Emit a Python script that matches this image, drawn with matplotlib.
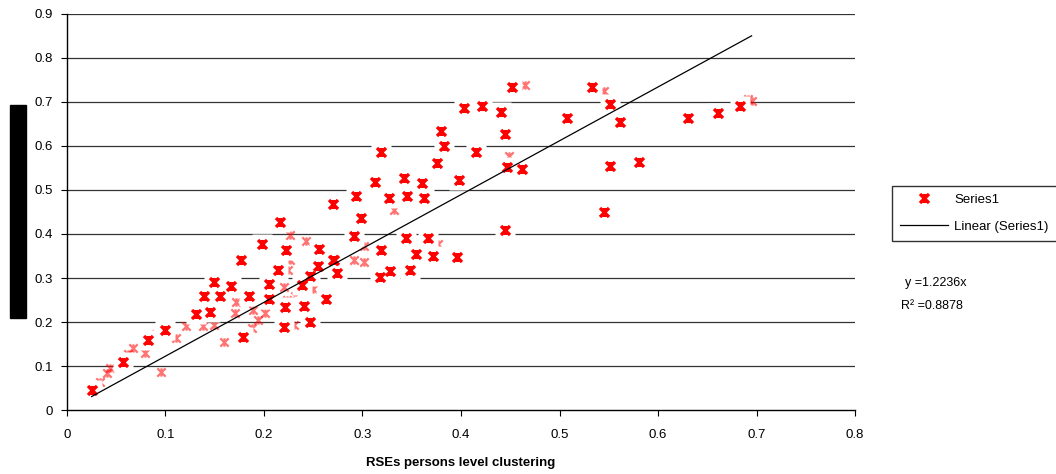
import numpy as np
import matplotlib
matplotlib.use('Agg')
import matplotlib.pyplot as plt
import matplotlib.patches as mpatches
from matplotlib.path import Path

plt.rcParams['font.family'] = ['Liberation Sans', 'DejaVu Sans']

# clearly drawn markers (x = clustering RSE, y = other RSE)
x_full = [0.025, 0.057, 0.082, 0.100, 0.131, 0.145, 0.177, 0.139, 0.155, 0.149,
          0.167, 0.185, 0.198, 0.205, 0.205, 0.214, 0.216, 0.222, 0.220, 0.221,
          0.241, 0.239, 0.247, 0.179, 0.255, 0.256, 0.263, 0.270, 0.270, 0.271,
          0.274, 0.247, 0.291, 0.293, 0.298, 0.313, 0.319, 0.318, 0.319, 0.327,
          0.328, 0.342, 0.344, 0.345, 0.348, 0.354, 0.360, 0.362, 0.366, 0.372,
          0.376, 0.380, 0.383, 0.396, 0.398, 0.403, 0.415, 0.421, 0.441, 0.445,
          0.445, 0.447, 0.452, 0.462, 0.508, 0.533, 0.551, 0.561, 0.551, 0.581,
          0.545, 0.630, 0.661, 0.683]
y_full = [0.045, 0.110, 0.158, 0.182, 0.218, 0.222, 0.341, 0.259, 0.259, 0.292,
          0.282, 0.259, 0.377, 0.286, 0.252, 0.318, 0.427, 0.364, 0.188, 0.233,
          0.236, 0.284, 0.201, 0.165, 0.328, 0.367, 0.252, 0.468, 0.341, 0.342,
          0.312, 0.305, 0.395, 0.486, 0.436, 0.519, 0.587, 0.303, 0.364, 0.481,
          0.316, 0.528, 0.392, 0.486, 0.318, 0.355, 0.515, 0.481, 0.392, 0.351,
          0.561, 0.633, 0.600, 0.347, 0.523, 0.687, 0.587, 0.692, 0.678, 0.627,
          0.409, 0.552, 0.733, 0.547, 0.664, 0.733, 0.695, 0.655, 0.555, 0.564,
          0.451, 0.664, 0.674, 0.692]

# markers mostly hidden behind others (only fragments visible)
x_part = [0.034, 0.041, 0.044, 0.062, 0.067, 0.079, 0.090, 0.095, 0.111, 0.121,
          0.138, 0.149, 0.159, 0.171, 0.172, 0.188, 0.189, 0.194, 0.201, 0.220,
          0.223, 0.224, 0.226, 0.226, 0.230, 0.231, 0.243, 0.250, 0.291, 0.302,
          0.302, 0.332, 0.377, 0.449, 0.465, 0.545, 0.691, 0.695]
y_part = [0.064, 0.085, 0.095, 0.127, 0.140, 0.129, 0.172, 0.087, 0.163, 0.191,
          0.190, 0.194, 0.154, 0.220, 0.246, 0.186, 0.227, 0.205, 0.220, 0.280,
          0.250, 0.318, 0.398, 0.341, 0.193, 0.259, 0.383, 0.276, 0.342, 0.337,
          0.373, 0.455, 0.377, 0.577, 0.739, 0.724, 0.706, 0.702]

slope = 1.2236
r2 = 0.8878

x_ticks = [0, 0.1, 0.2, 0.3, 0.4, 0.5, 0.6, 0.7, 0.8]
x_labels = ['0', '0.1', '0.2', '0.3', '0.4', '0.5', '0.6', '0.7', '0.8']
y_ticks = [0, 0.1, 0.2, 0.3, 0.4, 0.5, 0.6, 0.7, 0.8, 0.9]
y_labels = ['0', '0.1', '0.2', '0.3', '0.4', '0.5', '0.6', '0.7', '0.8', '0.9']

# Excel style star marker: X with a vertical bar
star = Path([(-1, -1), (1, 1), (-1, 1), (1, -1), (0, -1), (0, 1)],
            [Path.MOVETO, Path.LINETO, Path.MOVETO, Path.LINETO, Path.MOVETO, Path.LINETO])

fig = plt.figure(figsize=(10.56, 4.74), dpi=100)
ax = fig.add_axes([0.0634, 0.135, 0.7463, 0.8355])

ax.set_xlim(0, 0.8)
ax.set_ylim(0, 0.9)
for t in y_ticks[1:]:
    ax.axhline(t, color='#333333', lw=0.9, zorder=1)

x_all = np.array(x_full + x_part)

ax.plot(x_part, y_part, ls='none', marker=star, ms=6, mec='red', mew=1.6,
        alpha=0.55, zorder=2)
ax.plot(x_full, y_full, ls='none', marker='s', ms=15, mfc='white', mec='none', zorder=3)
ax.plot(x_full, y_full, ls='none', marker=star, ms=6.5, mec='red', mew=2.4,
        zorder=4, label='Series1')

line_x = np.array([x_all.min(), x_all.max()])
ax.plot(line_x, slope * line_x, color='black', lw=0.9, zorder=5, label='Linear (Series1)')

ax.set_xticks(x_ticks)
ax.set_xticklabels(x_labels)
ax.set_yticks(y_ticks)
ax.set_yticklabels(y_labels)
ax.tick_params(direction='out', length=4, width=0.8, labelsize=9.5)
ax.tick_params(axis='x', pad=10)
ax.tick_params(axis='y', pad=6)

for side in ['top', 'right']:
    ax.spines[side].set_visible(False)
for side in ['left', 'bottom']:
    ax.spines[side].set_linewidth(1.0)

ax.set_xlabel('RSEs persons level clustering', fontsize=9.5, fontweight='bold', labelpad=11)

# y label box (rendered as a solid black bar in the original)
fig.patches.append(mpatches.Rectangle((0.0095, 0.329), 0.0152, 0.449,
                                      transform=fig.transFigure, color='black'))

leg = fig.legend(loc='upper left', bbox_to_anchor=(0.845, 0.608), fontsize=9.5,
                 fancybox=False, edgecolor='#333333', framealpha=1,
                 handlelength=3.6, handletextpad=0.5, borderpad=0.6,
                 labelspacing=1.1, borderaxespad=0)
leg.get_frame().set_linewidth(1.0)

fig.text(0.857, 0.397, f'y ={slope}x', fontsize=9)
fig.text(0.853, 0.349, f'R\u00b2 ={r2}', fontsize=9)

fig.savefig('out.png', dpi=100)
plt.close()
